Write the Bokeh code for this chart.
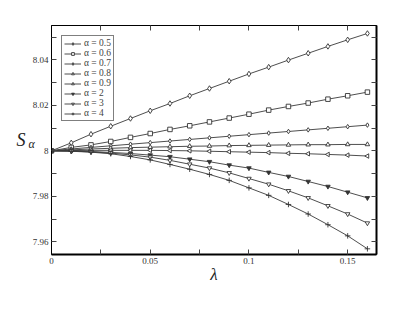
import math
from bokeh.plotting import figure
from bokeh.models import (Range1d, LinearAxis, FixedTicker, Legend, LegendItem)
from bokeh.embed import file_html
from bokeh.resources import INLINE

lam = [0.0, 0.01, 0.02, 0.03, 0.04, 0.05, 0.06, 0.07, 0.08, 0.09, 0.10,
       0.11, 0.12, 0.13, 0.14, 0.15, 0.16]

s_05 = [8.0, 8.0035, 8.0073, 8.0108, 8.0142, 8.0176, 8.0208, 8.0242, 8.0274,
        8.0306, 8.0338, 8.0368, 8.0399, 8.0429, 8.0459, 8.0488, 8.0516]
s_06 = [8.0, 8.0015, 8.0026, 8.0041, 8.0059, 8.0076, 8.0094, 8.0110, 8.0127,
        8.0144, 8.0161, 8.0179, 8.0195, 8.0210, 8.0227, 8.0242, 8.0258]
s_07 = [8.0, 8.0008, 8.0015, 8.0022, 8.0029, 8.0036, 8.0043, 8.0050, 8.0057,
        8.0064, 8.0071, 8.0078, 8.0085, 8.0092, 8.0099, 8.0106, 8.0113]
s_08 = [8.0, 8.0004, 8.0008, 8.0011, 8.0014, 8.0016, 8.0018, 8.0020, 8.0021,
        8.0023, 8.0024, 8.0025, 8.0026, 8.0027, 8.0027, 8.0028, 8.0028]
s_09 = [8.0, 8.0001, 8.0002, 8.0002, 8.0002, 8.0002, 8.0001, 8.0000, 7.9998,
        7.9996, 7.9994, 7.9992, 7.9989, 7.9987, 7.9984, 7.9981, 7.9977]
s_2 = [8.0, 7.9999, 7.9997, 7.9993, 7.9988, 7.9981, 7.9974, 7.9963, 7.9952,
       7.9937, 7.9924, 7.9905, 7.9887, 7.9865, 7.9843, 7.9818, 7.9793]
s_3 = [8.0, 7.9999, 7.9995, 7.9990, 7.9982, 7.9972, 7.9958, 7.9941, 7.9924,
       7.9903, 7.9878, 7.9853, 7.9824, 7.9793, 7.9758, 7.9722, 7.9682]
s_4 = [8.0, 7.9998, 7.9994, 7.9987, 7.9975, 7.9960, 7.9940, 7.9919, 7.9896,
       7.9870, 7.9837, 7.9804, 7.9764, 7.9722, 7.9675, 7.9626, 7.9569]

labels = ["α = 0.5", "α = 0.6", "α = 0.7", "α = 0.8", "α = 0.9",
          "α = 2", "α = 3", "α = 4"]
series = [s_05, s_06, s_07, s_08, s_09, s_2, s_3, s_4]
markers = ["diamond", "square", "diamond", "triangle", "triangle",
           "inverted_triangle", "inverted_triangle", "cross"]
msizes = [5.5, 4.5, 4.5, 4.5, 4.5, 4.5, 4.5, 5.5]
angles = [0, 0, 0, 0, math.pi / 2, 0, 0, 0]
fills = ["white", "white", "white", "white", "white", "#333333", "white", "white"]

x_ticks = [0, 0.05, 0.1, 0.15]
x_tick_labels = ["0", "0.05", "0.1", "0.15"]
x_minor = [0.025, 0.075, 0.125]
y_ticks = [7.96, 7.98, 8.0, 8.02, 8.04]
y_tick_labels = ["7.96", "7.98", "8", "8.02", "8.04"]
y_minor = [7.97, 7.99, 8.01, 8.03, 8.05]

FONT = "Liberation Serif"
H = 300

p = figure(width=399, height=H, output_backend="svg", toolbar_location=None,
           x_range=Range1d(0, 0.1646), y_range=Range1d(7.9544, 8.0551),
           min_border_left=51, min_border_right=23, min_border_top=25,
           min_border_bottom=46, x_axis_location=None, y_axis_location=None)
p.grid.visible = False
p.outline_line_color = "black"
p.outline_line_width = 1
p.background_fill_color = "white"
p.border_fill_color = "white"


def make_axis(ticks, minor, lbls, show_labels, lw):
    ax = LinearAxis(ticker=FixedTicker(ticks=ticks, minor_ticks=minor))
    ax.major_tick_in = 5
    ax.major_tick_out = 0
    ax.minor_tick_in = 5
    ax.minor_tick_out = 0
    ax.axis_line_width = lw
    ax.axis_line_color = "black"
    ax.major_tick_line_color = "#444444"
    ax.minor_tick_line_color = "#444444"
    ax.major_label_standoff = 3
    ax.major_label_text_font = FONT
    ax.major_label_text_font_size = "9px"
    ax.major_label_text_color = "#333333"
    if show_labels:
        ax.major_label_overrides = {t: l for t, l in zip(ticks, lbls)}
    else:
        ax.major_label_overrides = {t: "" for t in ticks}
    return ax


xb = make_axis(x_ticks, x_minor, x_tick_labels, True, 2)
xb.axis_label = "λ"
xb.axis_label_text_font = FONT
xb.axis_label_text_font_style = "italic"
xb.axis_label_text_font_size = "17px"
xb.axis_label_text_color = "#222222"
xb.axis_label_standoff = -2
p.add_layout(xb, "below")

yl = make_axis(y_ticks, y_minor, y_tick_labels, True, 1)
yl.axis_label = "\nα"
yl.axis_label_orientation = "horizontal"
yl.axis_label_text_font = FONT
yl.axis_label_text_font_style = "italic"
yl.axis_label_text_font_size = "12px"
yl.axis_label_text_line_height = 0.55
yl.axis_label_text_color = "#222222"
yl.axis_label_standoff = -5
p.add_layout(yl, "left")

ys_axis = LinearAxis(ticker=FixedTicker(ticks=[]), axis_line_color=None,
                     major_tick_line_color=None, minor_tick_line_color=None,
                     major_label_text_font_size="9px")
ys_axis.axis_label = "S"
ys_axis.axis_label_orientation = "horizontal"
ys_axis.axis_label_text_font = FONT
ys_axis.axis_label_text_font_style = "italic"
ys_axis.axis_label_text_font_size = "18px"
ys_axis.axis_label_text_color = "#222222"
ys_axis.axis_label_standoff = 0
p.add_layout(ys_axis, "left")

p.add_layout(make_axis(x_ticks, x_minor, x_tick_labels, False, 1), "above")
p.add_layout(make_axis(y_ticks, y_minor, y_tick_labels, False, 2), "right")

items = []
for lbl, ys, mk, ms, ang, fc in zip(labels, series, markers, msizes, angles, fills):
    ln = p.line(lam, ys, line_color="#3a3a3a", line_width=0.9)
    sc = p.scatter(lam, ys, marker=mk, size=ms, angle=ang, line_color="#333333",
                   fill_color=fc, line_width=0.9)
    items.append(LegendItem(label=lbl, renderers=[ln, sc]))

legend = Legend(items=items, location="top_left", margin=10, padding=2,
                spacing=-3, label_height=7, glyph_height=7, glyph_width=17,
                label_standoff=3, label_text_font=FONT,
                label_text_font_size="9.5px", label_text_line_height=0.8,
                border_line_color="black", border_line_width=1,
                background_fill_alpha=1.0)
p.add_layout(legend)

open("out.html", "w").write(file_html(p, INLINE))
